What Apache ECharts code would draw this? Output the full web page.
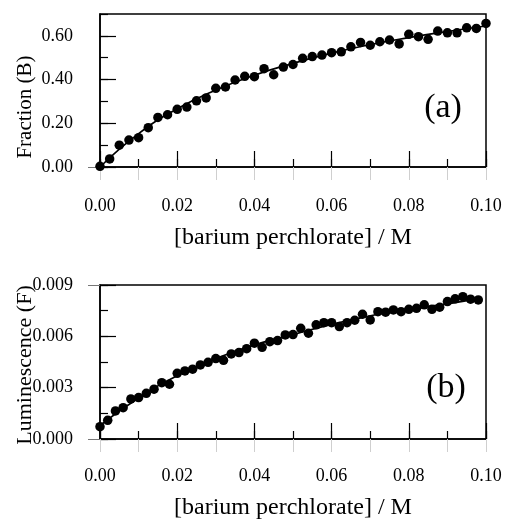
<!DOCTYPE html>
<html>
<head>
<meta charset="utf-8">
<script src="https://cdn.jsdelivr.net/npm/echarts@6/dist/echarts.min.js"></script>
<style>
  html, body { margin: 0; padding: 0; background: #fff; }
  #chart { width: 510px; height: 523px; }
</style>
</head>
<body>
<div id="chart"></div>
<script>
// panel (a): fraction of complex B vs salt concentration
const concA = [0, 0.0025, 0.005, 0.0075, 0.01, 0.0125, 0.015, 0.0175, 0.02, 0.0225,
  0.025, 0.0275, 0.03, 0.0325, 0.035, 0.0375, 0.04, 0.0425, 0.045, 0.0475,
  0.05, 0.0525, 0.055, 0.0575, 0.06, 0.0625, 0.065, 0.0675, 0.07, 0.0725,
  0.075, 0.0775, 0.08, 0.0825, 0.085, 0.0875, 0.09, 0.0925, 0.095, 0.0975, 0.1];
const fracB = [0.003, 0.037, 0.100, 0.123, 0.134, 0.180, 0.227, 0.239, 0.264, 0.274,
  0.303, 0.316, 0.360, 0.366, 0.398, 0.415, 0.413, 0.450, 0.422, 0.457,
  0.469, 0.497, 0.505, 0.512, 0.523, 0.527, 0.550, 0.570, 0.557, 0.573,
  0.581, 0.563, 0.607, 0.596, 0.584, 0.622, 0.614, 0.614, 0.637, 0.634, 0.657];
const fitXA = [0, 0.01, 0.02, 0.03, 0.04, 0.05, 0.06, 0.07, 0.08, 0.09, 0.1];
const fitA = [0, 0.153, 0.266, 0.352, 0.42, 0.474, 0.521, 0.56, 0.592, 0.62, 0.645];

// panel (b): luminescence of F vs salt concentration
const concB = [0, 0.002, 0.004, 0.006, 0.008, 0.01, 0.012, 0.014, 0.016, 0.018,
  0.02, 0.022, 0.024, 0.026, 0.028, 0.03, 0.032, 0.034, 0.036, 0.038,
  0.04, 0.042, 0.044, 0.046, 0.048, 0.05, 0.052, 0.054, 0.056, 0.058,
  0.06, 0.062, 0.064, 0.066, 0.068, 0.07, 0.072, 0.074, 0.076, 0.078,
  0.08, 0.082, 0.084, 0.086, 0.088, 0.09, 0.092, 0.094, 0.096, 0.098];
const lumF = [0.00072, 0.00109, 0.00164, 0.00183, 0.00234, 0.00242, 0.00267, 0.00291, 0.00329, 0.00320,
  0.00384, 0.00398, 0.00408, 0.00433, 0.00448, 0.00470, 0.00460, 0.00497, 0.00505, 0.00528,
  0.00560, 0.00536, 0.00569, 0.00575, 0.00608, 0.00610, 0.00647, 0.00618, 0.00667, 0.00680,
  0.00680, 0.00657, 0.00680, 0.00694, 0.00729, 0.00696, 0.00744, 0.00741, 0.00754, 0.00744,
  0.00758, 0.00764, 0.00784, 0.00758, 0.00770, 0.00803, 0.00819, 0.00832, 0.00817, 0.00813];
const fitXB = [0, 0.01, 0.02, 0.03, 0.04, 0.05, 0.06, 0.07, 0.08, 0.09, 0.098];
const fitB = [0.0008, 0.0024, 0.0037, 0.0047, 0.0055, 0.0061, 0.0067, 0.0072, 0.0076, 0.0079, 0.0082];

const xTitle = '[barium perchlorate] / M';
const serif = 'Liberation Serif';

const chart = echarts.init(document.getElementById('chart'), null, { renderer: 'canvas' });

const zip = (xs, ys) => xs.map((x, i) => [x, ys[i]]);

// each panel = 3 stacked grids: main (line, labels, long ticks), minor ticks, faint outer ticks
const rects = [
  { left: 100, top: 14, width: 386, height: 153 },
  { left: 100, top: 285, width: 386, height: 154 }
];
const grids = [];
rects.forEach(function (r) {
  grids.push(Object.assign({ show: true, borderColor: '#000', borderWidth: 1.5, backgroundColor: 'transparent' }, r));
  grids.push(Object.assign({}, r));
  grids.push(Object.assign({}, r));
});

function xAxes(p, labelMargin, nameGap) {
  const g = p * 3;
  return [
    {
      gridIndex: g, type: 'value', min: 0, max: 0.1, interval: 0.02,
      name: xTitle, nameLocation: 'middle', nameGap: nameGap,
      nameTextStyle: { fontFamily: serif, fontSize: 24, color: '#000' },
      axisLine: { lineStyle: { color: '#000', width: 1.5 } },
      axisTick: { inside: true, length: 16, lineStyle: { color: '#000', width: 1.2 } },
      axisLabel: { margin: labelMargin, fontFamily: serif, fontSize: 18, color: '#000',
        formatter: v => v.toFixed(2) },
      splitLine: { show: false }
    },
    {
      gridIndex: g + 1, type: 'value', min: 0, max: 0.1, interval: 0.01,
      axisLine: { show: false },
      axisTick: { inside: true, length: 8, lineStyle: { color: '#000', width: 1.2 } },
      axisLabel: { show: false }, splitLine: { show: false }
    },
    {
      gridIndex: g + 2, type: 'value', min: 0, max: 0.1, interval: 0.01,
      axisLine: { show: false },
      axisTick: { inside: false, length: 13, lineStyle: { color: '#cfcfcf', width: 1 } },
      axisLabel: { show: false }, splitLine: { show: false }
    }
  ];
}

function yAxes(p, max, interval, digits, outerTicks) {
  const g = p * 3;
  return [
    {
      gridIndex: g, type: 'value', min: 0, max: max, interval: interval,
      axisLine: { lineStyle: { color: '#000', width: 1.5 } },
      axisTick: { inside: true, length: 16, lineStyle: { color: '#000', width: 1.2 } },
      axisLabel: { margin: 27, fontFamily: serif, fontSize: 18, color: '#000',
        showMaxLabel: p === 1, formatter: v => v.toFixed(digits) },
      splitLine: { show: false }
    },
    {
      gridIndex: g + 1, type: 'value', min: 0, max: max, interval: interval / 2,
      axisLine: { show: false },
      axisTick: { inside: true, length: 8, lineStyle: { color: '#000', width: 1.2 } },
      axisLabel: { show: false }, splitLine: { show: false }
    },
    {
      gridIndex: g + 2, type: 'value', min: 0, max: max, interval: interval,
      axisLine: { show: false },
      axisTick: { inside: false, length: 12, customValues: outerTicks,
        lineStyle: { color: '#777', width: 1 } },
      axisLabel: { show: false }, splitLine: { show: false }
    }
  ];
}

const option = {
  animation: false,
  backgroundColor: '#fff',
  grid: grids,
  xAxis: xAxes(0, 30, 59).concat(xAxes(1, 28, 57)),
  yAxis: yAxes(0, 0.7, 0.2, 2, [0]).concat(yAxes(1, 0.009, 0.003, 3, [0, 0.009])),
  series: [
    {
      type: 'line', xAxisIndex: 0, yAxisIndex: 0, data: zip(fitXA, fitA),
      smooth: true, showSymbol: false, lineStyle: { color: '#000', width: 1.7 }, z: 2
    },
    {
      type: 'scatter', xAxisIndex: 0, yAxisIndex: 0, data: zip(concA, fracB),
      symbolSize: 9.5, itemStyle: { color: '#000', opacity: 1 }, z: 3
    },
    {
      type: 'line', xAxisIndex: 3, yAxisIndex: 3, data: zip(fitXB, fitB),
      smooth: true, showSymbol: false, lineStyle: { color: '#000', width: 1.7 }, z: 2
    },
    {
      type: 'scatter', xAxisIndex: 3, yAxisIndex: 3, data: zip(concB, lumF),
      symbolSize: 9.5, itemStyle: { color: '#000', opacity: 1 }, z: 3
    }
  ],
  graphic: [
    { type: 'text', x: 443, y: 108, style: { text: '(a)', font: '34px "Liberation Serif"',
      fill: '#000', align: 'center', verticalAlign: 'middle' } },
    { type: 'text', x: 446, y: 388, style: { text: '(b)', font: '34px "Liberation Serif"',
      fill: '#000', align: 'center', verticalAlign: 'middle' } },
    { type: 'text', x: 25, y: 107, rotation: Math.PI / 2, style: { text: 'Fraction (B)',
      font: '21px "Liberation Serif"', fill: '#000', align: 'center', verticalAlign: 'middle' } },
    { type: 'text', x: 25, y: 365, rotation: Math.PI / 2, style: { text: 'Luminescence (F)',
      font: '22px "Liberation Serif"', fill: '#000', align: 'center', verticalAlign: 'middle' } }
  ]
};

chart.setOption(option);
</script>
</body>
</html>
